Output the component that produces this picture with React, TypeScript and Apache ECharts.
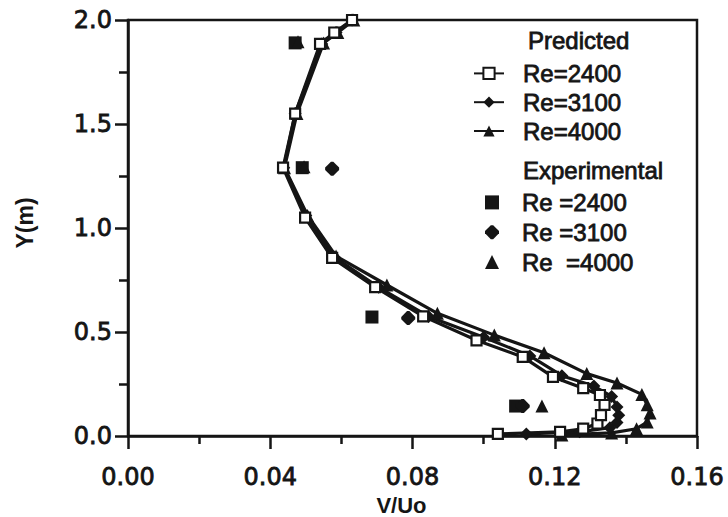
import React, { useEffect, useRef } from 'react';
import * as echarts from 'echarts';

const predictedNames = ['Re=2400', 'Re=3100', 'Re=4000'];
const experimentalNames = ['Re =2400', 'Re =3100', 'Re  =4000'];
const xTickLabels = ['0.00', '0.04', '0.08', '0.12', '0.16'];
const yTickLabels = ['0.0', '0.5', '1.0', '1.5', '2.0'];

const pred2400X = [0.104, 0.1215, 0.128, 0.132, 0.133, 0.134, 0.1327, 0.128, 0.1195, 0.111, 0.098, 0.083, 0.0695, 0.0574, 0.0498, 0.0436, 0.047, 0.054, 0.058, 0.063];
const pred2400Y = [0.01, 0.02, 0.035, 0.06, 0.1, 0.15, 0.197, 0.23, 0.284, 0.38, 0.46, 0.575, 0.716, 0.856, 1.05, 1.29, 1.55, 1.885, 1.94, 2.0];

const pred3100X = [0.112, 0.127, 0.1355, 0.1375, 0.138, 0.1375, 0.136, 0.131, 0.122, 0.113, 0.1, 0.0845, 0.0705, 0.058, 0.05, 0.0438, 0.047, 0.0545, 0.0585, 0.063];
const pred3100Y = [0.01, 0.02, 0.04, 0.065, 0.1, 0.14, 0.19, 0.24, 0.29, 0.385, 0.475, 0.575, 0.715, 0.86, 1.06, 1.29, 1.55, 1.885, 1.94, 2.0];

const pred4000X = [0.122, 0.136, 0.143, 0.146, 0.1468, 0.146, 0.1445, 0.1375, 0.129, 0.117, 0.103, 0.087, 0.0728, 0.0585, 0.0505, 0.044, 0.0475, 0.055, 0.059, 0.0635];
const pred4000Y = [0.005, 0.015, 0.035, 0.067, 0.11, 0.15, 0.2, 0.255, 0.3, 0.4, 0.485, 0.59, 0.726, 0.865, 1.06, 1.29, 1.55, 1.89, 1.94, 2.0];

const exp2400: [number, number][] = [[0.047, 1.89], [0.049, 1.29], [0.0686, 0.572], [0.109, 0.144]];
const exp3100: [number, number][] = [[0.0574, 1.285], [0.0788, 0.567], [0.111, 0.144]];
const exp4000: [number, number][] = [[0.0478, 1.895], [0.0495, 1.295], [0.1164, 0.144]];

const zip = (xs: number[], ys: number[]) => xs.map((x, i) => [x, ys[i]]);

const INK = '#151515';
const FONT = 'Liberation Sans, Arial, sans-serif';
const ROUND_DIAMOND = 'path://M5,0 L7,0 L12,5 L12,7 L7,12 L5,12 L0,7 L0,5 Z';

export default function App() {
  const ref = useRef<HTMLDivElement>(null);
  useEffect(() => {
    if (!ref.current) return;
    const chart = echarts.init(ref.current, undefined, { renderer: 'svg' });
    const lineBase = {
      type: 'line' as const,
      lineStyle: { color: INK, width: 3.2 },
      z: 2,
    };
    const heavy = { textBorderColor: INK, textBorderWidth: 0.8 };
    const legendText = { fontSize: 24, color: INK, fontFamily: FONT, ...heavy };
    chart.setOption({
      animation: false,
      backgroundColor: '#ffffff',
      textStyle: { fontFamily: FONT },
      grid: {
        left: 128, right: 31, top: 20, bottom: 81,
        show: true, borderColor: INK, borderWidth: 2.5, backgroundColor: 'transparent',
        outerBoundsMode: 'none',
      },
      xAxis: {
        type: 'value', min: 0, max: 0.16, interval: 0.04,
        axisLine: { lineStyle: { color: INK, width: 2.5 } },
        axisTick: { length: 13, lineStyle: { color: INK, width: 2.5 } },
        minorTick: { show: true, splitNumber: 2, length: 8, lineStyle: { color: INK, width: 2.5 } },
        splitLine: { show: false },
        axisLabel: {
          fontSize: 24, color: INK, fontFamily: 'DejaVu Sans', margin: 29, ...heavy,
          formatter: (v: number) => xTickLabels[Math.round(v / 0.04)] ?? '',
        },
        name: 'V/Uo', nameLocation: 'middle', nameGap: 53,
        nameTextStyle: { fontSize: 22, fontWeight: 'bold', color: INK, fontFamily: FONT, padding: [0, 22, 0, 0] },
      },
      yAxis: {
        type: 'value', min: 0, max: 2, interval: 0.5,
        axisLine: { lineStyle: { color: INK, width: 2.5 } },
        axisTick: { length: 13, lineStyle: { color: INK, width: 2.5 } },
        minorTick: { show: true, splitNumber: 2, length: 9, lineStyle: { color: INK, width: 2.5 } },
        splitLine: { show: false },
        axisLabel: {
          fontSize: 24, color: INK, fontFamily: 'DejaVu Sans', margin: 16, ...heavy,
          formatter: (v: number) => yTickLabels[Math.round(v / 0.5)] ?? '',
        },
        name: 'Y(m)', nameLocation: 'middle', nameGap: 92, nameRotate: 90,
        nameTextStyle: { fontSize: 23, fontWeight: 'bold', color: INK, fontFamily: FONT, padding: [0, 0, 0, 10] },
      },
      legend: [
        {
          data: predictedNames, orient: 'vertical', left: 468, top: 56,
          itemWidth: 30, itemHeight: 14, itemGap: 4,
          textStyle: { ...legendText, padding: [0, 0, 0, 14] },
        },
        {
          data: experimentalNames, orient: 'vertical', left: 480, top: 185,
          itemWidth: 14, itemHeight: 14, itemGap: 5,
          textStyle: { ...legendText, padding: [0, 0, 0, 18] },
        },
      ],
      graphic: [
        { type: 'text', x: 528, y: 40, style: { text: 'Predicted', fontSize: 24, fontFamily: FONT, fill: INK, stroke: INK, lineWidth: 0.8, verticalAlign: 'middle' } },
        { type: 'text', x: 523, y: 170, style: { text: 'Experimental', fontSize: 24, fontFamily: FONT, fill: INK, stroke: INK, lineWidth: 0.8, verticalAlign: 'middle' } },
      ],
      series: [
        {
          ...lineBase, name: 'Re=4000', data: zip(pred4000X, pred4000Y),
          symbol: 'triangle', symbolSize: 13, itemStyle: { color: INK },
        },
        {
          ...lineBase, name: 'Re=3100', data: zip(pred3100X, pred3100Y),
          symbol: 'diamond', symbolSize: 13, itemStyle: { color: INK },
        },
        {
          ...lineBase, name: 'Re=2400', data: zip(pred2400X, pred2400Y),
          symbol: 'rect', symbolSize: 10, itemStyle: { color: '#ffffff', borderColor: INK, borderWidth: 2.2 },
        },
        {
          type: 'scatter', name: 'Re =2400', data: exp2400, symbol: 'rect', symbolSize: 13,
          itemStyle: { color: INK, opacity: 1 }, z: 3,
        },
        {
          type: 'scatter', name: 'Re =3100', data: exp3100, symbol: ROUND_DIAMOND, symbolSize: 14,
          itemStyle: { color: INK, opacity: 1 }, z: 3,
        },
        {
          type: 'scatter', name: 'Re  =4000', data: exp4000, symbol: 'triangle', symbolSize: 13,
          itemStyle: { color: INK, opacity: 1 }, z: 3,
        },
      ],
    });
    return () => chart.dispose();
  }, []);
  return <div ref={ref} style={{ position: 'fixed', left: 0, top: 0, width: 728, height: 517, background: '#fff' }} />;
}
